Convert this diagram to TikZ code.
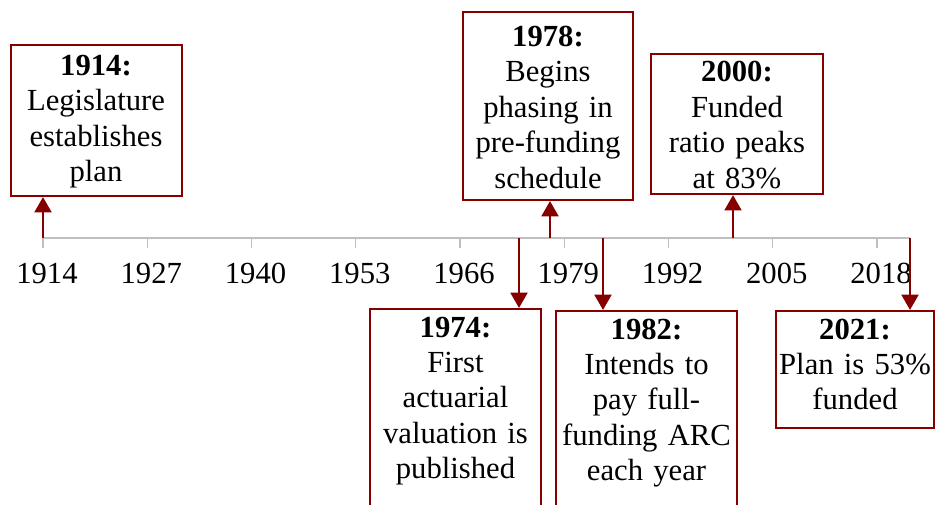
\documentclass[tikz,border=0pt]{standalone}
\usepackage{fontspec}
\setmainfont{Liberation Serif}
\usepackage{xcolor}
\usepackage{tikz}
\usetikzlibrary{arrows.meta,positioning,calc}
\definecolor{event}{RGB}{134,0,0}
\definecolor{axisgray}{RGB}{191,191,191}

\begin{document}
\begin{tikzpicture}[
    x=0.75pt, y=-0.75pt,
    font=\fontsize{23}{26.6}\selectfont,
    box/.style={draw=event, line width=1.5pt, align=center, inner xsep=2pt, inner ysep=4pt, text height=17pt},
    axisline/.style={draw=axisgray, line width=1.1pt},
    pointer/.style={-{Triangle[width=12.5pt,length=11.5pt]}, event, line width=2.2pt}
]
    \useasboundingbox (0,0) rectangle (935,504);

    % Time axis with ticks and years
    \coordinate (axstart) at (43,238);
    \coordinate (axend) at (910,238);
    \draw[axisline] (axstart) -- (axend);
    \foreach \i in {0,...,8} {
        \pgfmathtruncatemacro{\yr}{1914+13*\i}
        \draw[axisline] ($(axstart)+(104.25*\i,0)$) -- ++(0,10);
        \node (yr\yr) at ($(axstart)+(104.25*\i+4,35.5)$) {\yr};
    }

    % Events above the axis
    \node[box, text width=124.25pt, minimum height=113.25pt] (b1914) at (96,120.5)
        {\textbf{1914:}\\Legislature\\establishes\\plan};
    \node[box, text width=123.5pt, minimum height=141pt] (b1978) at (548,106)
        {\textbf{1978:}\\Begins\\phasing in\\pre-funding\\schedule};
    \node[box, text width=125pt, minimum height=105pt] (b2000) at (737,124)
        {\textbf{2000:}\\Funded\\ratio peaks\\at 83\%};

    % Events below the axis
    \node[box, text width=124.25pt, text depth=170pt, anchor=north] (b1974) at (455.5,308)
        {\textbf{1974:}\\First\\actuarial\\valuation is\\published};
    \node[box, text width=131.75pt, text depth=170pt, anchor=north] (b1982) at (646.5,310)
        {\textbf{1982:}\\Intends to\\pay full-\\funding ARC\\each year};
    \node[box, text width=114.5pt, text depth=62.75pt, anchor=north] (b2021) at (855,310)
        {\textbf{2021:}\\Plan is 53\%\\funded};

    % Pointers from the axis to the boxes
    \foreach \x/\name in {43/b1914, 550/b1978, 733/b2000} {
        \coordinate (p\name) at (\x,238);
        \draw[pointer] (p\name) -- (p\name |- \name.south);
    }
    \foreach \x/\name in {519/b1974, 603/b1982, 910/b2021} {
        \coordinate (p\name) at (\x,238);
        \draw[pointer] (p\name) -- (p\name |- \name.north);
    }
\end{tikzpicture}
\end{document}
